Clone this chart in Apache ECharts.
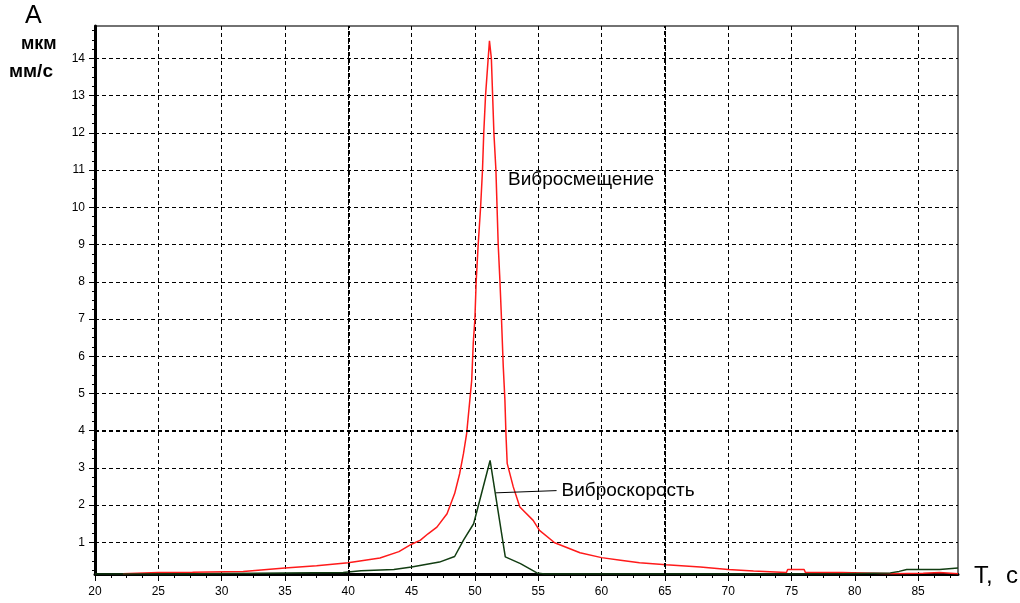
<!DOCTYPE html>
<html>
<head>
<meta charset="utf-8">
<script src="https://cdn.jsdelivr.net/npm/echarts@6/dist/echarts.min.js"></script>
<style>
html, body { margin: 0; padding: 0; background: #fff; }
#chart { width: 1020px; height: 603px; }
</style>
</head>
<body>
<div id="chart"></div>
<script>
// T, c
var xMin = 20, xMax = 88.15;
var yMin = 0.15, yMax = 14.87;
var xTicks = [20, 25, 30, 35, 40, 45, 50, 55, 60, 65, 70, 75, 80, 85];
var yTicks = [1, 2, 3, 4, 5, 6, 7, 8, 9, 10, 11, 12, 13, 14];
var xMinor = [21.25, 22.5, 23.75, 26.25, 27.5, 28.75, 31.25, 32.5, 33.75, 36.25, 37.5, 38.75,
	41.25, 42.5, 43.75, 46.25, 47.5, 48.75, 51.25, 52.5, 53.75, 56.25, 57.5, 58.75,
	61.25, 62.5, 63.75, 66.25, 67.5, 68.75, 71.25, 72.5, 73.75, 76.25, 77.5, 78.75,
	81.25, 82.5, 83.75, 86.25, 87.5];
var yMinor = [0.25, 0.5, 0.75, 1.25, 1.5, 1.75, 2.25, 2.5, 2.75, 3.25, 3.5, 3.75, 4.25, 4.5, 4.75,
	5.25, 5.5, 5.75, 6.25, 6.5, 6.75, 7.25, 7.5, 7.75, 8.25, 8.5, 8.75, 9.25, 9.5, 9.75,
	10.25, 10.5, 10.75, 11.25, 11.5, 11.75, 12.25, 12.5, 12.75, 13.25, 13.5, 13.75,
	14.25, 14.5, 14.75];
var boldX = [40, 65];
var boldY = [4];

// Вибросмещение, мкм
var smesh = [
	[22.2, 0.16], [25, 0.19], [27.7, 0.2], [31.7, 0.22], [31.8, 0.27], [35, 0.31], [37.5, 0.37],
	[40, 0.45], [42.5, 0.58], [44, 0.75], [45, 0.95], [45.7, 1.06], [46.3, 1.23], [47, 1.41],
	[47.8, 1.77], [48.4, 2.31], [48.8, 2.85], [49.1, 3.39], [49.35, 3.93], [49.6, 4.82],
	[49.75, 5.36], [49.87, 6.35], [50, 7], [50.1, 8], [50.26, 9], [50.45, 10], [50.6, 11],
	[50.7, 12], [50.84, 13], [51.05, 14], [51.15, 14.47], [51.3, 14], [51.4, 13], [51.5, 12],
	[51.66, 11], [51.75, 10], [51.84, 9], [51.98, 8], [52.1, 7], [52.24, 5.72], [52.37, 4.82],
	[52.45, 3.93], [52.55, 3.12], [53.03, 2.49], [53.55, 1.95], [54.6, 1.59], [55.1, 1.32],
	[56.3, 0.99], [58.3, 0.72], [60, 0.59], [61.5, 0.52], [63, 0.45], [65.1, 0.4], [67.8, 0.34],
	[70, 0.27], [72, 0.23], [72.1, 0.19], [74.6, 0.19], [74.7, 0.27], [76, 0.27], [76.1, 0.19],
	[79, 0.19], [79.1, 0.16], [83, 0.16], [85.4, 0.17], [85.5, 0.19], [86.7, 0.19], [86.8, 0.16],
	[88.15, 0.16]
];
// Виброскорость, мм/с
var skor = [
	[20, 0.15], [26.3, 0.15], [26.4, 0.17], [32.8, 0.17], [32.9, 0.19], [39.6, 0.19], [41, 0.24],
	[41.1, 0.27], [43.6, 0.27], [43.7, 0.31], [45, 0.34], [47.2, 0.47], [48.4, 0.62], [49.1, 1.06],
	[49.9, 1.5], [51.2, 3.2], [52.4, 0.61], [53.6, 0.43], [54.9, 0.18], [55.5, 0.15], [72, 0.15],
	[72.1, 0.16], [79, 0.16], [79.1, 0.18], [82.8, 0.18], [83.5, 0.22], [84.1, 0.27], [86.7, 0.27],
	[86.8, 0.31], [88.15, 0.31]
];

var font = 'Liberation Sans, Arial, sans-serif';
var dash = { color: '#000', width: 1, type: [4, 3] };

var chart = echarts.init(document.getElementById('chart'));

var boldLines = [];
boldX.forEach(function(v) { boldLines.push({ xAxis: v }); });
boldY.forEach(function(v) { boldLines.push({ yAxis: v }); });

var option = {
	backgroundColor: '#fff',
	animation: false,
	grid: { left: 95, right: 62, top: 26, bottom: 29, show: true, borderColor: '#444', borderWidth: 1.5, backgroundColor: 'transparent' },
	xAxis: [{
		type: 'value', min: xMin, max: xMax,
		axisLine: { onZero: false, lineStyle: { color: '#000', width: 3 } },
		axisTick: { customValues: xTicks, length: 7, lineStyle: { color: '#000', width: 1 } },
		axisLabel: { customValues: xTicks, color: '#000', fontSize: 12, fontFamily: font, margin: 12 },
		splitLine: { show: true, lineStyle: dash }
	}, {
		type: 'value', min: xMin, max: xMax, position: 'bottom',
		axisLine: { show: false },
		axisTick: { customValues: xMinor, length: 4, lineStyle: { color: '#000', width: 1 } },
		axisLabel: { show: false },
		splitLine: { show: false }
	}],
	yAxis: [{
		type: 'value', min: yMin, max: yMax,
		axisLine: { show: true, onZero: false, lineStyle: { color: '#000', width: 3 } },
		axisTick: { show: true, customValues: yTicks, length: 6, lineStyle: { color: '#000', width: 1 } },
		axisLabel: { customValues: yTicks, color: '#000', fontSize: 12, fontFamily: font, margin: 10 },
		splitLine: { show: true, lineStyle: dash }
	}, {
		type: 'value', min: yMin, max: yMax, position: 'left',
		axisLine: { show: false },
		axisTick: { show: true, customValues: yMinor, length: 3, lineStyle: { color: '#000', width: 1 } },
		axisLabel: { show: false },
		splitLine: { show: false }
	}],
	graphic: [
		{ type: 'text', left: 25, top: 4, style: { text: 'A', font: '25px ' + font, fill: '#000' } },
		{ type: 'text', left: 21, top: 35, style: { text: 'мкм', font: 'bold 18px ' + font, fill: '#000' } },
		{ type: 'text', left: 9, top: 62, style: { text: 'мм/с', font: 'bold 19px ' + font, fill: '#000' } },
		{ type: 'text', left: 974, top: 564, style: { text: 'T,  c', font: '24px ' + font, fill: '#000' } },
		{ type: 'text', left: 508, top: 170, style: { text: 'Вибросмещение', font: '19px ' + font, fill: '#000' } }
	],
	series: [{
		type: 'line', data: [], z: 1, silent: true,
		markLine: {
			silent: true, symbol: 'none', animation: false,
			label: { show: false },
			lineStyle: { color: '#000', width: 2, type: [4, 3] },
			data: boldLines
		}
	}, {
		name: 'Вибросмещение', type: 'line', data: smesh, z: 3,
		showSymbol: false, symbol: 'none',
		lineStyle: { color: '#ff1a1a', width: 1.5 }
	}, {
		name: 'Виброскорость', type: 'line', data: skor, z: 4,
		showSymbol: false, symbol: 'none',
		lineStyle: { color: '#123d12', width: 1.5 },
		markLine: {
			silent: true, symbol: 'none', animation: false,
			lineStyle: { color: '#000', width: 1, type: 'solid' },
			label: { show: true, position: 'end', distance: 5, formatter: 'Виброскорость', color: '#000', fontSize: 19, fontFamily: font },
			data: [[{ coord: [51.66, 2.33] }, { coord: [56.45, 2.39] }]]
		}
	}]
};

chart.setOption(option);
</script>
</body>
</html>
